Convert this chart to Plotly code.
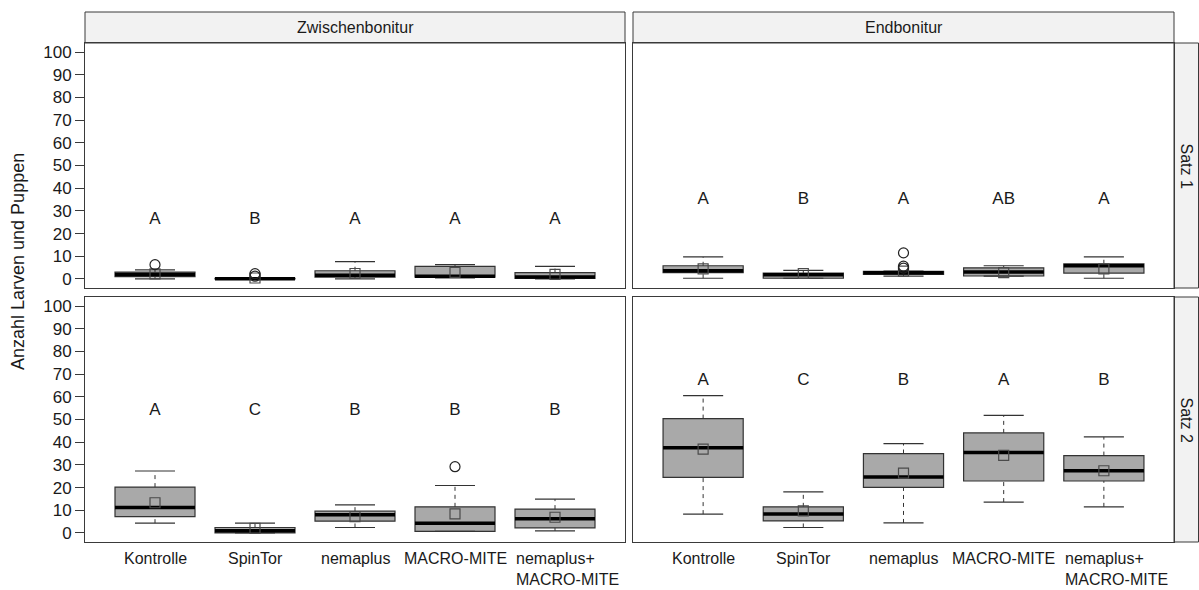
import plotly.graph_objects as go

# ---------------- data ----------------
categories = ["Kontrolle", "SpinTor", "nemaplus", "MACRO-MITE", "nemaplus+<br>MACRO-MITE"]
timepoints = ["Zwischenbonitur", "Endbonitur"]
sets = ["Satz 1", "Satz 2"]
y_ticks = [0, 10, 20, 30, 40, 50, 60, 70, 80, 90, 100]

# Zwischenbonitur, Satz 1
zw1_lower = [0.0, 0.0, 0.0, 0.5, 0.0]
zw1_q1 = [1.0, 0.0, 0.8, 0.8, 0.2]
zw1_median = [2.0, 0.1, 1.6, 1.2, 0.8]
zw1_q3 = [3.0, 0.3, 3.6, 5.5, 2.8]
zw1_upper = [4.0, 0.5, 7.6, 6.3, 5.5]
zw1_mean = [2.2, 0.4, 2.4, 2.9, 2.0]
zw1_out_cat = [0, 1, 1]
zw1_out_val = [6.3, 1.2, 2.3]
zw1_letters = ["A", "B", "A", "A", "A"]
zw1_letter_y = 26

# Endbonitur, Satz 1
end1_lower = [0.3, 0.3, 1.2, 1.2, 0.3]
end1_q1 = [2.8, 0.3, 2.0, 1.3, 2.6]
end1_median = [3.6, 1.8, 2.7, 3.0, 5.8]
end1_q3 = [5.8, 2.6, 3.3, 4.9, 6.7]
end1_upper = [9.7, 3.8, 3.4, 5.8, 9.7]
end1_mean = [4.4, 2.4, 3.4, 2.8, 4.4]
end1_out_cat = [2, 2, 2]
end1_out_val = [11.5, 5.6, 4.8]
end1_letters = ["A", "B", "A", "AB", "A"]
end1_letter_y = 35

# Zwischenbonitur, Satz 2
zw2_lower = [4.3, 0.0, 2.4, 0.7, 0.9]
zw2_q1 = [7.2, 0.0, 5.2, 0.7, 2.2]
zw2_median = [11.2, 1.0, 8.0, 4.3, 6.3]
zw2_q3 = [20.2, 2.4, 9.6, 11.5, 10.5]
zw2_upper = [27.3, 4.3, 12.4, 20.9, 14.9]
zw2_mean = [13.3, 2.0, 7.2, 8.4, 6.9]
zw2_out_cat = [3]
zw2_out_val = [29.2]
zw2_letters = ["A", "C", "B", "B", "B"]
zw2_letter_y = 54

# Endbonitur, Satz 2
end2_lower = [8.3, 2.4, 4.4, 13.6, 11.5]
end2_q1 = [24.5, 5.3, 20.1, 22.9, 22.9]
end2_median = [37.6, 8.3, 24.6, 35.5, 27.4]
end2_q3 = [50.4, 11.5, 35.0, 44.1, 34.1]
end2_upper = [60.5, 18.1, 39.4, 51.8, 42.3]
end2_mean = [36.9, 9.7, 26.4, 34.2, 27.4]
end2_out_cat = []
end2_out_val = []
end2_letters = ["A", "C", "B", "A", "B"]
end2_letter_y = 67

# ---------------- layout constants ----------------
W, H = 1199, 590
FONT = "Liberation Sans, Arial, sans-serif"
BOX_W = 0.8
CAP_W = 0.4
BORDER = "#3a3a3a"

def px_x(p):
    return p / W

def px_y(p):
    return 1 - p / H

col_dom = [[px_x(85), px_x(625)], [px_x(633), px_x(1174)]]
row_dom = [[px_y(288), px_y(43)], [px_y(542), px_y(297)]]

panels = [
    (0, 0, zw1_lower, zw1_q1, zw1_median, zw1_q3, zw1_upper, zw1_mean, zw1_out_cat, zw1_out_val, zw1_letters, zw1_letter_y),
    (0, 1, end1_lower, end1_q1, end1_median, end1_q3, end1_upper, end1_mean, end1_out_cat, end1_out_val, end1_letters, end1_letter_y),
    (1, 0, zw2_lower, zw2_q1, zw2_median, zw2_q3, zw2_upper, zw2_mean, zw2_out_cat, zw2_out_val, zw2_letters, zw2_letter_y),
    (1, 1, end2_lower, end2_q1, end2_median, end2_q3, end2_upper, end2_mean, end2_out_cat, end2_out_val, end2_letters, end2_letter_y),
]

fig = go.Figure()
pos = [i + 1 for i in range(len(categories))]

for r, c, lo, q1, med, q3, up, mean, oc, ov, letters, ly in panels:
    k = r * 2 + c + 1
    xa = "x" if k == 1 else f"x{k}"
    ya = "y" if k == 1 else f"y{k}"

    # whiskers (dashed)
    wx, wy = [], []
    for p, a, b, cc, d in zip(pos, lo, q1, q3, up):
        wx += [p, p, None, p, p, None]
        wy += [a, b, None, cc, d, None]
    fig.add_trace(go.Scatter(x=wx, y=wy, mode="lines", xaxis=xa, yaxis=ya,
                             line=dict(color="#333333", width=1, dash="4px,4px"),
                             hoverinfo="skip", showlegend=False))
    # caps
    cx, cy = [], []
    for p, a, d in zip(pos, lo, up):
        cx += [p - CAP_W / 2, p + CAP_W / 2, None, p - CAP_W / 2, p + CAP_W / 2, None]
        cy += [a, a, None, d, d, None]
    fig.add_trace(go.Scatter(x=cx, y=cy, mode="lines", xaxis=xa, yaxis=ya,
                             line=dict(color="#333333", width=1.2),
                             hoverinfo="skip", showlegend=False))
    # boxes
    fig.add_trace(go.Bar(x=pos, y=[b - a for a, b in zip(q1, q3)], base=q1, width=BOX_W,
                         xaxis=xa, yaxis=ya,
                         marker=dict(color="#a9a9a9", line=dict(color="#333333", width=1.2)),
                         hoverinfo="skip", showlegend=False))
    # medians
    mx, my = [], []
    for p, m in zip(pos, med):
        mx += [p - BOX_W / 2, p + BOX_W / 2, None]
        my += [m, m, None]
    fig.add_trace(go.Scatter(x=mx, y=my, mode="lines", xaxis=xa, yaxis=ya,
                             line=dict(color="black", width=3.5),
                             hoverinfo="skip", showlegend=False))
    # means
    fig.add_trace(go.Scatter(x=pos, y=mean, mode="markers", xaxis=xa, yaxis=ya,
                             marker=dict(symbol="square-open", size=10,
                                         color="#4a4a4a", line=dict(width=1.2)),
                             hoverinfo="skip", showlegend=False))
    # outliers
    if ov:
        fig.add_trace(go.Scatter(x=[pos[i] for i in oc], y=ov, mode="markers",
                                 xaxis=xa, yaxis=ya,
                                 marker=dict(symbol="circle-open", size=10,
                                             color="#222222", line=dict(width=1.2)),
                                 hoverinfo="skip", showlegend=False))
    # significance letters
    fig.add_trace(go.Scatter(x=pos, y=[ly] * len(pos), mode="text", text=letters,
                             xaxis=xa, yaxis=ya, textposition="middle center",
                             textfont=dict(family=FONT, size=17, color="#1a1a1a"),
                             hoverinfo="skip", showlegend=False))

layout = dict(
    width=W, height=H,
    margin=dict(l=0, r=0, t=0, b=0),
    paper_bgcolor="white", plot_bgcolor="white",
    font=dict(family=FONT, color="#1a1a1a"),
    barmode="overlay",
    showlegend=False,
)

for r in range(2):
    for c in range(2):
        k = r * 2 + c + 1
        xkey = "xaxis" if k == 1 else f"xaxis{k}"
        ykey = "yaxis" if k == 1 else f"yaxis{k}"
        ya = "y" if k == 1 else f"y{k}"
        xa = "x" if k == 1 else f"x{k}"
        layout[xkey] = dict(domain=col_dom[c], anchor=ya, range=[0.3, 5.7],
                            showgrid=False, zeroline=False, showticklabels=False,
                            ticks="", showline=True, mirror=True,
                            linecolor=BORDER, linewidth=1, fixedrange=True)
        layout[ykey] = dict(domain=row_dom[r], anchor=xa, range=[-4, 104],
                            showgrid=False, zeroline=False,
                            tickvals=y_ticks, ticktext=[str(v) for v in y_ticks],
                            showticklabels=(c == 0),
                            ticks="outside" if c == 0 else "", ticklen=9,
                            tickcolor=BORDER, tickwidth=1,
                            tickfont=dict(family=FONT, size=17, color="#1a1a1a"),
                            showline=True, mirror=True,
                            linecolor=BORDER, linewidth=1, fixedrange=True)

fig.update_layout(**layout)

shapes = []
annotations = []
# column strips
for c, name in enumerate(timepoints):
    shapes.append(dict(type="rect", xref="paper", yref="paper",
                       x0=col_dom[c][0], x1=col_dom[c][1], y0=px_y(43), y1=px_y(12),
                       fillcolor="#f2f2f2", line=dict(color=BORDER, width=1), layer="below"))
    annotations.append(dict(text=name, xref="paper", yref="paper",
                            x=(col_dom[c][0] + col_dom[c][1]) / 2, y=(px_y(43) + px_y(12)) / 2,
                            showarrow=False, xanchor="center", yanchor="middle",
                            font=dict(family=FONT, size=16, color="#1a1a1a")))
# row strips
for r, name in enumerate(sets):
    shapes.append(dict(type="rect", xref="paper", yref="paper",
                       x0=px_x(1174), x1=px_x(1198.5), y0=row_dom[r][0], y1=row_dom[r][1],
                       fillcolor="#f2f2f2", line=dict(color=BORDER, width=1), layer="below"))
    annotations.append(dict(text=name, xref="paper", yref="paper",
                            x=px_x(1186), y=(row_dom[r][0] + row_dom[r][1]) / 2,
                            showarrow=False, textangle=90, xanchor="center", yanchor="middle",
                            font=dict(family=FONT, size=16, color="#1a1a1a")))

# x category labels under the bottom row
for xa in ["x3", "x4"]:
    for p, lab in zip(pos, categories):
        multi = "<br>" in lab
        annotations.append(dict(text=lab, xref=xa, yref="paper", x=p, y=px_y(548),
                                showarrow=False, yanchor="top",
                                xanchor="left" if multi else "center",
                                xshift=-41 if multi else 0,
                                align="left",
                                font=dict(family=FONT, size=16, color="#1a1a1a")))

# y axis title
annotations.append(dict(text="Anzahl Larven und Puppen", xref="paper", yref="paper",
                        x=px_x(18), y=px_y(262), textangle=-90, showarrow=False,
                        xanchor="center", yanchor="middle",
                        font=dict(family=FONT, size=18, color="#1a1a1a")))

fig.update_layout(shapes=shapes, annotations=annotations)
fig.write_html("out.html")
